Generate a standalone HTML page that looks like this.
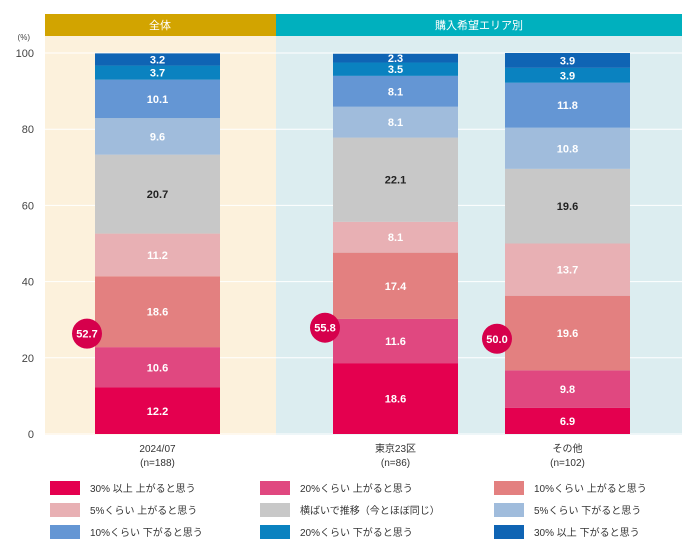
<!DOCTYPE html>
<html><head><meta charset="utf-8"><style>
body{margin:0;background:#fff;font-family:"Liberation Sans","Noto Sans CJK JP",sans-serif;}
svg text{font-family:"Liberation Sans","Noto Sans CJK JP",sans-serif;}
</style></head><body>
<svg width="700" height="550" viewBox="0 0 700 550">
<g id="bg"></g><g id="marks"></g><g id="legend"></g>
</svg>
<script>
const categories=["2024/07","東京23区","その他"];
const nLabels=["(n=188)","(n=86)","(n=102)"];
const seriesNames=["30% 以上 上がると思う","20%くらい 上がると思う","10%くらい 上がると思う","5%くらい 上がると思う","横ばいで推移（今とほぼ同じ）","5%くらい 下がると思う","10%くらい 下がると思う","20%くらい 下がると思う","30% 以上 下がると思う"];
const v30up=[12.2,18.6,6.9];
const v20up=[10.6,11.6,9.8];
const v10up=[18.6,17.4,19.6];
const v5up=[11.2,8.1,13.7];
const vFlat=[20.7,22.1,19.6];
const v5down=[9.6,8.1,10.8];
const v10down=[10.1,8.1,11.8];
const v20down=[3.7,3.5,3.9];
const v30down=[3.2,2.3,3.9];
const upTotals=[52.7,55.8,50.0];
const yTicks=[0,20,40,60,80,100];
const series=[v30up,v20up,v10up,v5up,vFlat,v5down,v10down,v20down,v30down];
const colors=["#e4004f","#e04880","#e38080","#e8b0b4","#c8c8c8","#a0bcdc","#6496d4","#0a82c0","#0f64b4"];
const ns="http://www.w3.org/2000/svg";
const y=v=>434-v*3.81;
const barX=[95,333,505], barW=125;
function el(p,t,a,txt){const e=document.createElementNS(ns,t);for(const k in a)e.setAttribute(k,a[k]);if(txt!==undefined)e.textContent=txt;p.appendChild(e);return e;}
const bg=document.getElementById('bg'),mk=document.getElementById('marks'),lg=document.getElementById('legend');
let e;
e=el(bg,'rect',{x:45,y:36,width:231,height:399,fill:'#fcf1dc'});

e=el(bg,'rect',{x:276,y:36,width:406,height:399,fill:'#dcedf0'});

e=el(bg,'rect',{x:45,y:14,width:231,height:22,fill:'#d2a400'});

e=el(bg,'rect',{x:276,y:14,width:406,height:22,fill:'#00b0be'});

e=el(bg,'text',{x:160,y:29,'font-size':11,fill:'#fff','text-anchor':'middle'},'全体');

e=el(bg,'text',{x:479,y:29,'font-size':11,fill:'#fff','text-anchor':'middle'},'購入希望エリア別');

e=el(bg,'text',{x:30,y:40,'font-size':8,fill:'#444','text-anchor':'end'},'(%)');

yTicks.forEach(t=>{
 e=el(bg,'line',{x1:45,x2:682,y1:y(t),y2:y(t),stroke:'#fff','stroke-width':1});
 
 e=el(bg,'text',{x:34,y:y(t)+4,'font-size':11,fill:'#444','text-anchor':'end'},String(t));
 
});
categories.forEach((c,i)=>{
 let base=0;
 series.forEach((s,k)=>{
  const v=s[i];
  e=el(mk,'rect',{x:barX[i],y:y(base+v),width:barW,height:v*3.81,fill:colors[k]});
  
  e=el(mk,'text',{x:barX[i]+barW/2,y:y(base+v/2)+4,'font-size':11,'font-weight':'bold',fill:k==4?'#222':'#fff','text-anchor':'middle'},v.toFixed(1));
  
  base+=v;
 });
 const cy=y(upTotals[i]/2);
 e=el(mk,'circle',{cx:barX[i]-8,cy:cy,r:15,fill:'#d6004c'});
 
 e=el(mk,'text',{x:barX[i]-8,y:cy+4,'font-size':11,'font-weight':'bold',fill:'#fff','text-anchor':'middle'},upTotals[i].toFixed(1));
 
 e=el(mk,'text',{x:barX[i]+barW/2,y:452,'font-size':10,fill:'#333','text-anchor':'middle'},c);
 
 e=el(mk,'text',{x:barX[i]+barW/2,y:466,'font-size':10,fill:'#333','text-anchor':'middle'},nLabels[i]);
 
});
const lx=[50,260,494];
seriesNames.forEach((n,k)=>{
 const col=k%3,row=Math.floor(k/3);
 const ly=481+row*22;
 e=el(lg,'rect',{x:lx[col],y:ly,width:30,height:14,fill:colors[k]});
 
 e=el(lg,'text',{x:lx[col]+40,y:ly+11,'font-size':10,fill:'#333'},n);
 
});
</script>
</body></html>
